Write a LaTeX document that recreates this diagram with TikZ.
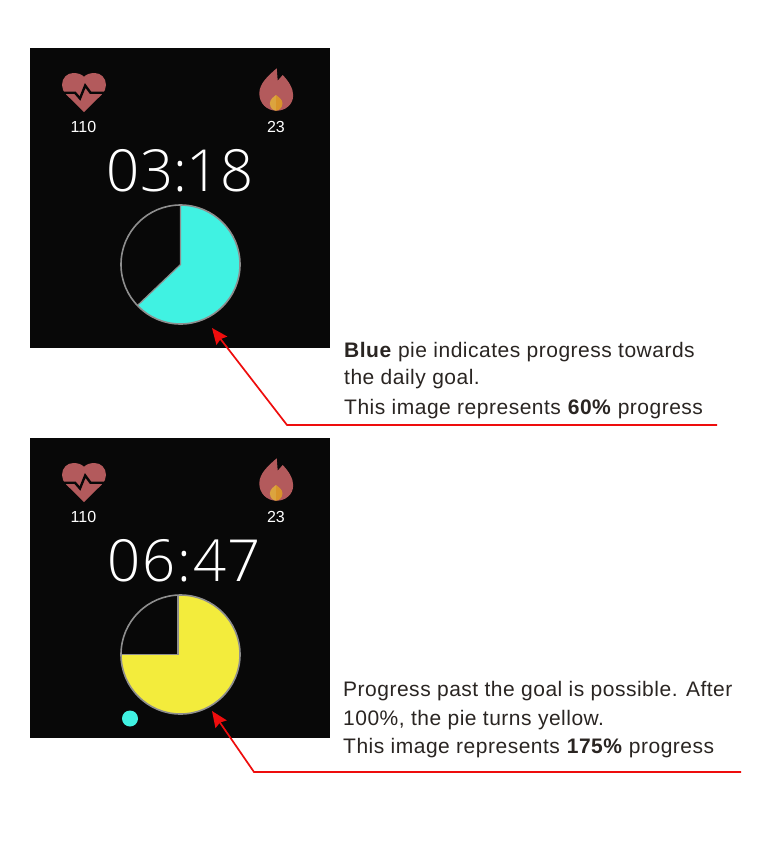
\documentclass[tikz,border=0pt]{standalone}
\usepackage{fontspec}
\usetikzlibrary{arrows.meta}
\setmainfont[LetterSpace=2.4]{Liberation Sans}
\newfontfamily\lightf{Open Sans Light}
\newfontfamily\lightwide[LetterSpace=3]{Open Sans Light}
\newfontfamily\statf{Liberation Sans}
\definecolor{scr}{HTML}{080808}
\definecolor{flame}{HTML}{B35A5C}
\definecolor{cyanpie}{HTML}{40F2E2}
\definecolor{yellowpie}{HTML}{F3EC3C}
\definecolor{rim}{HTML}{8E8E8E}
\definecolor{ink}{HTML}{2A2522}
\definecolor{arrowred}{HTML}{EE0D0D}
\definecolor{orgA}{HTML}{DBA43E}
\definecolor{orgB}{HTML}{D8942A}
\tikzset{
 screen/.style={fill=scr,draw=none,minimum width=300pt,minimum height=300pt,inner sep=0pt,outer sep=0pt,anchor=north west},
 stat/.style={text=white,font=\statf\fontsize{16}{16}\selectfont,inner sep=0pt,anchor=base},
 clock/.style={text=white,font=\lightf\fontsize{58}{58}\selectfont,inner sep=0pt,anchor=base},
 clockwide/.style={text=white,font=\lightwide\fontsize{58}{58}\selectfont,inner sep=0pt,anchor=base},
 note/.style={text=ink,font=\fontsize{21}{21}\selectfont,inner sep=0pt,anchor=base west},
 callout/.style={draw=arrowred,line width=1.7pt,line join=miter,-{Stealth[length=16pt,width=13.5pt,inset=2pt]}},
 pierim/.style={draw=rim,line width=1.6pt},
 pics/heart/.style={code={
  \fill[flame] (0,39) -- (-17.5,21.8) .. controls (-20.5,18.8) and (-22,15.5) .. (-22,12)
    .. controls (-22,5) and (-17,0) .. (-10.5,0) .. controls (-6,0) and (-2,1.5) .. (0,3.8)
    .. controls (2,1.5) and (6,0) .. (10.5,0) .. controls (17,0) and (22,5) .. (22,12)
    .. controls (22,15.5) and (20.5,18.8) .. (17.5,21.8) -- cycle;
  \draw[scr,line width=2.4pt,line join=miter,miter limit=3] (-22.5,19.7) -- (-9,19.7) -- (-4,25.5) -- (1.2,12.5) -- (6.5,19.7) -- (22.5,19.7);
 }},
 pics/flamefig/.style={code={
  \fill[flame] (0,0) -- (1,12.4) -- (6,6.7) .. controls (12,13) and (16.5,20) .. (16.5,27)
    .. controls (16.5,36) and (9,42.4) .. (0,42.4) .. controls (-10,42.4) and (-17.4,35) .. (-17.4,25)
    .. controls (-17.4,15) and (-8,7) .. (0,0) -- cycle;
  \fill[orgA] (-0.7,26.7) .. controls (-3,28.5) and (-6.8,31) .. (-6.8,35) .. controls (-6.8,39.5) and (-3.5,42.4) .. (-0.7,42.4) -- cycle;
  \fill[orgB] (-0.7,26.7) .. controls (1.5,28.5) and (5.8,31) .. (5.8,35) .. controls (5.8,39.5) and (2,42.4) .. (-0.7,42.4) -- cycle;
 }},
}
\begin{document}
\begin{tikzpicture}[x=1pt,y=-1pt]
\useasboundingbox (0,0) rectangle (769,863);
\fill[white] (0,0) rectangle (769,863);
% top screen
\node[screen] (screenA) at (30,48) {};
\pic at (84,73) {heart};
\pic at (276.7,68.3) {flamefig};
\node[stat] (hrA) at (83.5,132.5) {110};
\node[stat] (calA) at (276,132.5) {23};
\node[clock] (timeA) at (180,191) {03:18};
\fill[cyanpie] (180.5,264.5) -- (180.5,205) arc[start angle=-90,end angle=136.5,radius=59.5] -- cycle;
\draw[pierim] (180.5,264.5) circle[radius=59.5];
\draw[rim,line width=1.2pt] (180.5,205) -- (180.5,264.5) -- (137.5,305.5);
\coordinate (tipA) at (212,328);
\coordinate (bendA) at (287,425);
\coordinate (endA) at (717,425);
\draw[callout] (endA) -- (bendA) -- (tipA);
\node[note] (noteA1) at (344,357) {\textbf{Blue} pie indicates progress towards};
\node[note] (noteA2) at (344,384.5) {the daily goal.};
\node[note] (noteA3) at (344,414.5) {This image represents \textbf{60\%} progress};
% bottom screen
\node[screen] (screenB) at (30,438) {};
\pic at (84,463) {heart};
\pic at (276.7,458.3) {flamefig};
\node[stat] (hrB) at (83.5,522.5) {110};
\node[stat] (calB) at (276,522.5) {23};
\node[clockwide] (timeB) at (184.5,581) {06:47};
\fill[yellowpie] (180.5,654.5) circle[radius=59.5];
\fill[scr] (178,654) -- (178,595) arc[start angle=-90,end angle=-180,radius=59] -- cycle;
\draw[pierim] (180.5,654.5) circle[radius=59.5];
\draw[rim,line width=1.2pt] (178,595) -- (178,654.5) -- (121,654.5);
\node[circle,fill=cyanpie,draw=none,minimum size=16pt,inner sep=0pt] (dot) at (130,718.5) {};
\coordinate (tipB) at (212,711);
\coordinate (bendB) at (254,772);
\coordinate (endB) at (741,772);
\draw[callout] (endB) -- (bendB) -- (tipB);
\node[note] (noteB1) at (343,696) {Progress past the goal is possible. After};
\node[note] (noteB2) at (343,725) {100\%, the pie turns yellow.};
\node[note] (noteB3) at (343,753) {This image represents \textbf{175\%} progress};
\end{tikzpicture}
\end{document}
